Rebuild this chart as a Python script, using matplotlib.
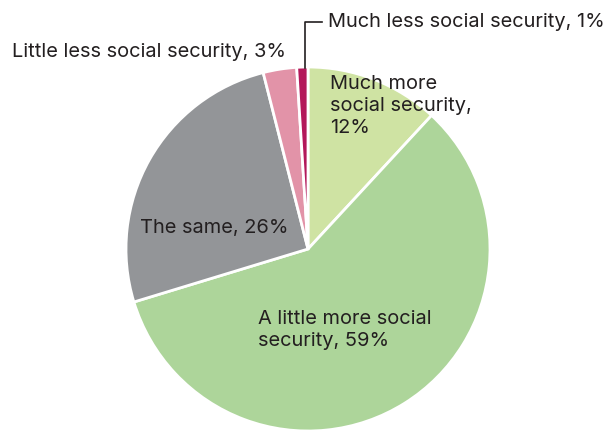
import matplotlib.pyplot as plt

plt.rcParams['font.family'] = ['Inter', 'DejaVu Sans']

# Survey answers, clockwise from 12 o'clock
categories = ["Much more social security", "A little more social security",
              "The same", "Little less social security", "Much less social security"]
shares = [12, 59, 26, 3, 1]
colors = ["#cfe3a3", "#add59a", "#939598", "#e293a8", "#b3185a"]
labels = ["Much more\nsocial security,\n12%", "A little more social\nsecurity, 59%",
          "The same, 26%", "Little less social security, 3%",
          "Much less social security, 1%"]

W, H = 609, 430
fig = plt.figure(figsize=(W / 100, H / 100), dpi=100)
ax = fig.add_axes([0, 0, 1, 1])

cx, cy, r = 308, H - 249, 182
wedges, _ = ax.pie(shares, colors=colors, startangle=90, counterclock=False,
                   center=(cx, cy), radius=r, frame=True,
                   wedgeprops=dict(edgecolor="white", linewidth=2))
ax.set_xlim(0, W)
ax.set_ylim(0, H)
ax.set_aspect("equal")
ax.axis("off")

tc = "#231f20"
fs = 14.4
ls = 1.3
ax.text(330, H - 106, labels[0], ha="left", va="center", fontsize=fs, color=tc, linespacing=ls)
ax.text(258, H - 330, labels[1], ha="left", va="center", fontsize=fs, color=tc, linespacing=ls)
ax.text(140, H - 228, labels[2], ha="left", va="center", fontsize=fs, color=tc)
ax.text(12, H - 52, labels[3], ha="left", va="center", fontsize=fs, color=tc)
ax.text(328, H - 22, labels[4], ha="left", va="center", fontsize=fs, color=tc)

# leader line for the smallest slice
ax.plot([305, 305, 322], [H - 68, H - 22, H - 22], color=tc, lw=1.2)

fig.savefig("out.png", dpi=100)
